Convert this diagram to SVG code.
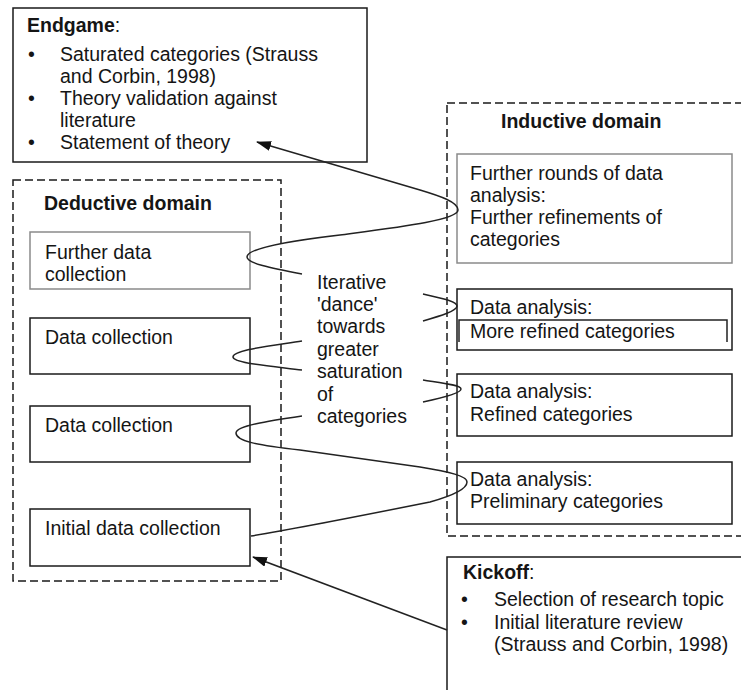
<svg xmlns="http://www.w3.org/2000/svg" width="741" height="690" viewBox="0 0 741 690">
  <style>
    text { font-family: "Liberation Sans", Arial, sans-serif; font-size: 19.5px; fill: #151515; }
    .b { font-weight: bold; }
    .box { fill: #fff; stroke: #1a1a1a; stroke-width: 1.5; }
    .soft { fill: #fff; stroke: #8a8a8a; stroke-width: 1.5; }
    .domain { fill: none; stroke: #1a1a1a; stroke-width: 1.5; stroke-dasharray: 8 4; }
    .link { fill: none; stroke: #222; stroke-width: 1.5; }
  </style>
  <defs>
    <marker id="arrow" markerUnits="userSpaceOnUse" markerWidth="15" markerHeight="10" refX="14" refY="5" orient="auto">
      <path d="M0,0 L15,5 L0,10 z" fill="#111"/>
    </marker>
  </defs>
  <rect width="741" height="690" fill="#fff"/>

  <!-- domain frames -->
  <rect class="domain" x="13" y="180" width="268" height="401"/>
  <rect class="domain" x="447" y="103" width="310" height="433"/>
  <text class="b" x="44" y="210">Deductive domain</text>
  <text class="b" x="501" y="128">Inductive domain</text>

  <g id="endgame">
    <rect class="box" x="13" y="8" width="354" height="154"/>
    <text x="27" y="32"><tspan class="b">Endgame</tspan>:</text>
    <text x="28" y="61">•</text>
    <text x="60" y="61">Saturated categories (Strauss</text>
    <text x="60" y="83">and Corbin, 1998)</text>
    <text x="28" y="105">•</text>
    <text x="60" y="105">Theory validation against</text>
    <text x="60" y="127">literature</text>
    <text x="28" y="149">•</text>
    <text x="60" y="149">Statement of theory</text>
  </g>

  <g id="further-data-collection">
    <rect class="soft" x="30" y="232" width="220" height="57"/>
    <text x="45" y="259">Further data</text>
    <text x="45" y="281">collection</text>
  </g>
  <g id="data-collection-2">
    <rect class="box" x="30" y="318" width="220" height="56"/>
    <text x="45" y="344">Data collection</text>
  </g>
  <g id="data-collection-1">
    <rect class="box" x="30" y="406" width="220" height="56"/>
    <text x="45" y="432">Data collection</text>
  </g>
  <g id="initial-data-collection">
    <rect class="box" x="30" y="509" width="220" height="57"/>
    <text x="45" y="535">Initial data collection</text>
  </g>

  <g id="further-rounds">
    <rect class="soft" x="457" y="154" width="275" height="109"/>
    <text x="470" y="180">Further rounds of data</text>
    <text x="470" y="202">analysis:</text>
    <text x="470" y="224">Further refinements of</text>
    <text x="470" y="246">categories</text>
  </g>
  <g id="analysis-more-refined">
    <rect class="box" x="457" y="289" width="275" height="61"/>
    <path class="link" d="M459,342 V320 H727 V342"/>
    <text x="470" y="314">Data analysis:</text>
    <text x="470" y="338">More refined categories</text>
  </g>
  <g id="analysis-refined">
    <rect class="box" x="457" y="374" width="275" height="62"/>
    <text x="470" y="398">Data analysis:</text>
    <text x="470" y="421">Refined categories</text>
  </g>
  <g id="analysis-preliminary">
    <rect class="box" x="457" y="462" width="275" height="62"/>
    <text x="470" y="486">Data analysis:</text>
    <text x="470" y="508">Preliminary categories</text>
  </g>

  <g id="kickoff">
    <rect class="box" x="447" y="557" width="310" height="150"/>
    <text x="463" y="579"><tspan class="b">Kickoff</tspan>:</text>
    <text x="461" y="606">•</text>
    <text x="494" y="606">Selection of research topic</text>
    <text x="461" y="629">•</text>
    <text x="494" y="629">Initial literature review</text>
    <text x="494" y="651">(Strauss and Corbin, 1998)</text>
  </g>

  <g id="dance-label">
    <text x="317" y="289">Iterative</text>
    <text x="317" y="311">'dance'</text>
    <text x="317" y="333">towards</text>
    <text x="317" y="356">greater</text>
    <text x="317" y="378">saturation</text>
    <text x="317" y="401">of</text>
    <text x="317" y="423">categories</text>
  </g>

  <g id="connectors">
    <path class="link" marker-end="url(#arrow)" d="M302,274 C270,268 247,263 247,257 C247,248 290,241 340,235 C400,227 458,220 458,210 C458,202 440,196 420,190 L257,142"/>
    <path class="link" d="M423,294 C440,298 457,301 457,306 C457,311 440,316 423,321"/>
    <path class="link" d="M302,341 C270,346 233,350 233,357 C233,363 270,366 302,370"/>
    <path class="link" d="M423,380 C442,383 461,385 461,389 C461,393 442,398 423,402"/>
    <path class="link" d="M302,416 C268,421 236,426 236,433 C236,441 256,445 300,450 L420,467 C450,472 467,476 467,482 C467,488 455,495 430,502 C360,516 300,528 251,536"/>
    <path class="link" marker-end="url(#arrow)" d="M447,630 L253,557"/>
  </g>
</svg>
